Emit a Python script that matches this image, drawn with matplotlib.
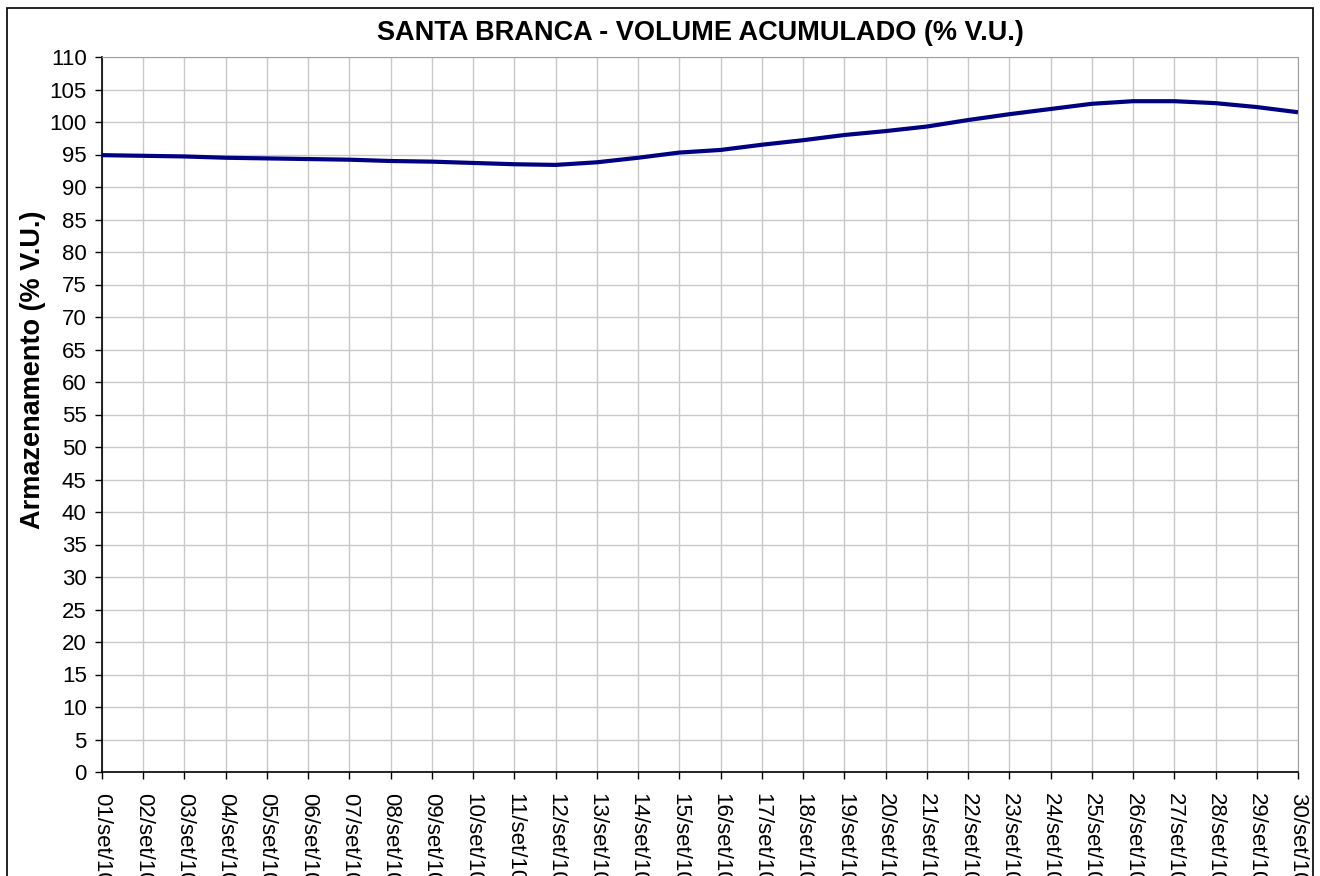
import matplotlib
matplotlib.use("Agg")
import matplotlib.pyplot as plt
from matplotlib.patches import Rectangle

plt.rcParams['font.family'] = ['Liberation Sans', 'DejaVu Sans']

dates = [f"{d:02d}/set/10" for d in range(1, 31)]
volume = [94.9, 94.8, 94.7, 94.5, 94.4, 94.3, 94.2, 94.0, 93.9, 93.7,
          93.5, 93.4, 93.8, 94.5, 95.3, 95.7, 96.5, 97.2, 98.0, 98.6,
          99.3, 100.3, 101.2, 102.0, 102.8, 103.2, 103.2, 102.9, 102.3, 101.5]
yticks = list(range(0, 111, 5))

fig = plt.figure(figsize=(13.2, 8.76), dpi=100)
ax = fig.add_axes([102/1320, 1-772/876, (1298-102)/1320, (772-57)/876])

x = list(range(len(dates)))
ax.plot(x, volume, color='#000080', lw=3.0, solid_capstyle='butt', zorder=3)

ax.set_xlim(0, len(dates)-1)
ax.set_ylim(0, 110)
ax.set_yticks(yticks)
ax.set_xticks(x)
ax.set_xticklabels(dates, rotation=-90, fontsize=16, va='top', ha='center')
ax.tick_params(axis='y', labelsize=16, length=5, width=1, direction='out', pad=6)
ax.tick_params(axis='x', length=5, width=1, direction='out', pad=10)
ax.grid(True, color='#c8c8c8', lw=1)
ax.set_axisbelow(True)
for s in ['top', 'right']:
    ax.spines[s].set_color('#a0a0a0')
for s in ['left', 'bottom']:
    ax.spines[s].set_color('black')
    ax.spines[s].set_linewidth(1.2)

ax.set_title("SANTA BRANCA - VOLUME ACUMULADO (% V.U.)", fontsize=19.5, fontweight='bold', pad=12)
ax.set_ylabel("Armazenamento (% V.U.)", fontsize=19.5, fontweight='bold')
ax.yaxis.set_label_coords(-0.047, 0.562)

fig.patches.append(Rectangle((7/1320, -0.2), (1313-7)/1320, 1.2 - 8/876,
                             transform=fig.transFigure, fill=False,
                             edgecolor='black', lw=1.2, clip_on=False))

fig.savefig("out.png", dpi=100)
